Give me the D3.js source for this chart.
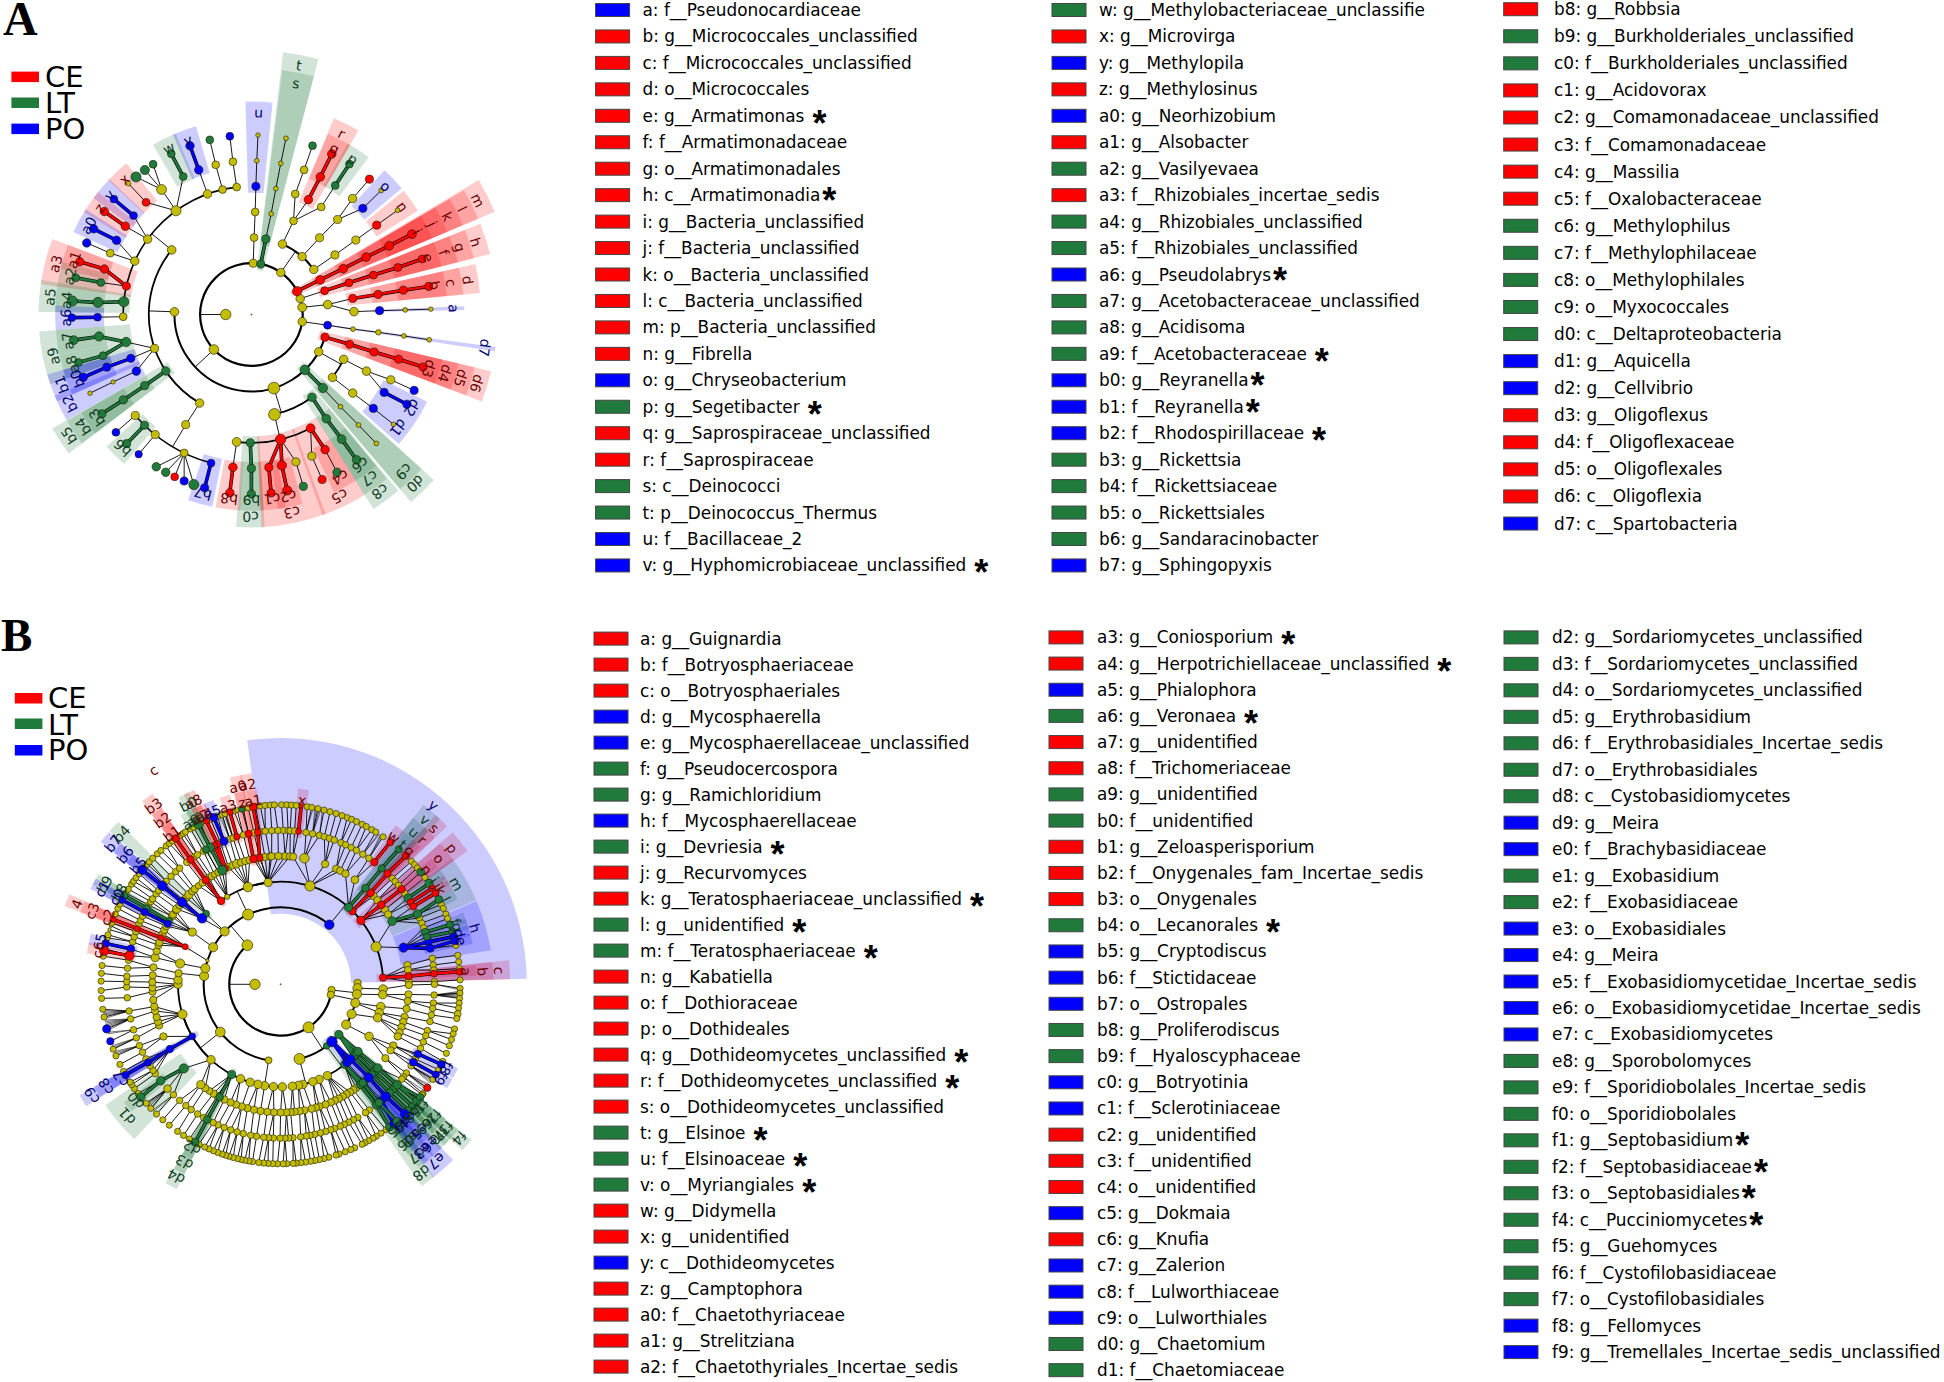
<!DOCTYPE html>
<html>
<head>
<meta charset="utf-8">
<script src="https://cdn.jsdelivr.net/npm/d3@7"></script>
<style>
  body { margin: 0; background: #fff; }
  svg { display: block; }
</style>
</head>
<body>
<svg id="chart" width="1944" height="1382"></svg>
<script>
// legend entries, taken from the figure. a trailing * is the significance star
var legendA1 = ["a: f__Pseudonocardiaceae","b: g__Micrococcales_unclassified","c: f__Micrococcales_unclassified","d: o__Micrococcales","e: g__Armatimonas *","f: f__Armatimonadaceae","g: o__Armatimonadales","h: c__Armatimonadia*","i: g__Bacteria_unclassified","j: f__Bacteria_unclassified","k: o__Bacteria_unclassified","l: c__Bacteria_unclassified","m: p__Bacteria_unclassified","n: g__Fibrella","o: g__Chryseobacterium","p: g__Segetibacter *","q: g__Saprospiraceae_unclassified","r: f__Saprospiraceae","s: c__Deinococci","t: p__Deinococcus_Thermus","u: f__Bacillaceae_2","v: g__Hyphomicrobiaceae_unclassified *"];
var groupsA1 = "BRRRRRRRRRRRRRBGRRGGBB";
var legendA2 = ["w: g__Methylobacteriaceae_unclassifie","x: g__Microvirga","y: g__Methylopila","z: g__Methylosinus","a0: g__Neorhizobium","a1: g__Alsobacter","a2: g__Vasilyevaea","a3: f__Rhizobiales_incertae_sedis","a4: g__Rhizobiales_unclassified","a5: f__Rhizobiales_unclassified","a6: g__Pseudolabrys*","a7: g__Acetobacteraceae_unclassified","a8: g__Acidisoma","a9: f__Acetobacteraceae *","b0: g__Reyranella*","b1: f__Reyranella*","b2: f__Rhodospirillaceae *","b3: g__Rickettsia","b4: f__Rickettsiaceae","b5: o__Rickettsiales","b6: g__Sandaracinobacter","b7: g__Sphingopyxis"];
var groupsA2 = "GRBRBRGRGGBGGGBBBGGGGB";
var legendA3 = ["b8: g__Robbsia","b9: g__Burkholderiales_unclassified","c0: f__Burkholderiales_unclassified","c1: g__Acidovorax","c2: g__Comamonadaceae_unclassified","c3: f__Comamonadaceae","c4: g__Massilia","c5: f__Oxalobacteraceae","c6: g__Methylophilus","c7: f__Methylophilaceae","c8: o__Methylophilales","c9: o__Myxococcales","d0: c__Deltaproteobacteria","d1: g__Aquicella","d2: g__Cellvibrio","d3: g__Oligoflexus","d4: f__Oligoflexaceae","d5: o__Oligoflexales","d6: c__Oligoflexia","d7: c__Spartobacteria"];
var groupsA3 = "RGGRRRRRGGGGGBBRRRRB";

var legendB1 = ["a: g__Guignardia","b: f__Botryosphaeriaceae","c: o__Botryosphaeriales","d: g__Mycosphaerella","e: g__Mycosphaerellaceae_unclassified","f: g__Pseudocercospora","g: g__Ramichloridium","h: f__Mycosphaerellaceae","i: g__Devriesia *","j: g__Recurvomyces","k: g__Teratosphaeriaceae_unclassified *","l: g__unidentified *","m: f__Teratosphaeriaceae *","n: g__Kabatiella","o: f__Dothioraceae","p: o__Dothideales","q: g__Dothideomycetes_unclassified *","r: f__Dothideomycetes_unclassified *","s: o__Dothideomycetes_unclassified","t: g__Elsinoe *","u: f__Elsinoaceae *","v: o__Myriangiales *","w: g__Didymella","x: g__unidentified","y: c__Dothideomycetes","z: g__Camptophora","a0: f__Chaetothyriaceae","a1: g__Strelitziana","a2: f__Chaetothyriales_Incertae_sedis"];
var groupsB1 = "RRRBBGGBGRRGGRRRRRRGGGRRBRRRR";
var legendB2 = ["a3: g__Coniosporium *","a4: g__Herpotrichiellaceae_unclassified *","a5: g__Phialophora","a6: g__Veronaea *","a7: g__unidentified","a8: f__Trichomeriaceae","a9: g__unidentified","b0: f__unidentified","b1: g__Zeloasperisporium","b2: f__Onygenales_fam_Incertae_sedis","b3: o__Onygenales","b4: o__Lecanorales *","b5: g__Cryptodiscus","b6: f__Stictidaceae","b7: o__Ostropales","b8: g__Proliferodiscus","b9: f__Hyaloscyphaceae","c0: g__Botryotinia","c1: f__Sclerotiniaceae","c2: g__unidentified","c3: f__unidentified","c4: o__unidentified","c5: g__Dokmaia","c6: g__Knufia","c7: g__Zalerion","c8: f__Lulworthiaceae","c9: o__Lulworthiales","d0: g__Chaetomium","d1: f__Chaetomiaceae"];
var groupsB2 = "RRBGRRGGRRRGBBBGGBBRRRBRBBBGG";
var legendB3 = ["d2: g__Sordariomycetes_unclassified","d3: f__Sordariomycetes_unclassified","d4: o__Sordariomycetes_unclassified","d5: g__Erythrobasidium","d6: f__Erythrobasidiales_Incertae_sedis","d7: o__Erythrobasidiales","d8: c__Cystobasidiomycetes","d9: g__Meira","e0: f__Brachybasidiaceae","e1: g__Exobasidium","e2: f__Exobasidiaceae","e3: o__Exobasidiales","e4: g__Meira","e5: f__Exobasidiomycetidae_Incertae_sedis","e6: o__Exobasidiomycetidae_Incertae_sedis","e7: c__Exobasidiomycetes","e8: g__Sporobolomyces","e9: f__Sporidiobolales_Incertae_sedis","f0: o__Sporidiobolales","f1: g__Septobasidium*","f2: f__Septobasidiaceae*","f3: o__Septobasidiales*","f4: c__Pucciniomycetes*","f5: g__Guehomyces","f6: f__Cystofilobasidiaceae","f7: o__Cystofilobasidiales","f8: g__Fellomyces","f9: g__Tremellales_Incertae_sedis_unclassified"];
var groupsB3 = "GGGGGGGBBGGBBBBBGGGGGGGGGGBB";

// panel A tree: id, parent, level, angle read clockwise from north, group, abundance
var treeA = [
  ["root",null,0,0,"Y",1],["k0",null,1,270,"Y",90],
  ["p1","k0",2,227,"Y",76],["p2","k0",2,2,"Y",55],["t","k0",2,10.5,"G",55],["p3","k0",2,35,"Y",60],["m","k0",2,63,"R",72],["p4","k0",2,72,"Y",60],["p5","k0",2,82,"Y",65],["p6","k0",2,98,"Y",60],
  ["n1","p2",3,2,"Y",50],["n2","n1",4,2.1,"Y",50],["u","n2",5,2,"B",55],["n3","u",6,2,"Y",19],["n4","n3",7,2.1,"Y",17],
  ["s","t",3,10.8,"G",55],["n5","s",4,11.1,"Y",19],["n6","n5",5,11,"Y",19],["n7","n6",6,11,"Y",19],["n8","n7",7,11.1,"Y",19],
  ["c1x","p3",3,23.8,"Y",60],["c2x","p3",3,41.2,"Y",60],["c3x","p3",3,54.2,"Y",60],
  ["n9","c1x",4,24.2,"Y",50],["n10","n9",5,20,"Y",50],["n11","n10",6,20,"Y",50],["n12","n11",7,19.9,"G",50],
  ["r","n9",5,26.4,"R",60],["q","r",6,26.6,"R",62],["n13","q",7,26.6,"R",62],
  ["n14","n9",5,33,"Y",50],["p","n14",6,33,"G",50],["n15","p",7,33.1,"G",50],
  ["n16","c2x",4,41.6,"Y",55],["n17","n16",5,42.2,"Y",55],["n18","n17",6,41.1,"Y",60],["n19","n18",7,41.1,"R",55],["o","n17",6,46.4,"B",55],["n20","o",7,46.3,"Y",19],
  ["n21","c3x",4,54.5,"Y",55],["n22","n21",5,54.5,"Y",55],["n","n22",6,54.5,"R",55],["n23","n",7,54.5,"Y",19],
  ["l","m",3,63.3,"R",65],["k","l",4,63.5,"R",65],["j","k",5,63.4,"R",65],["i","j",6,63.5,"R",65],["n24","i",7,63.4,"R",65],
  ["h","p4",3,72,"R",52],["g","h",4,72,"R",52],["f","g",5,72.1,"R",52],["e","f",6,72.2,"R",52],["n25","e",7,72,"R",52],
  ["n26","p5",3,82.6,"Y",62],["d","n26",4,81,"R",55],["c","d",5,81,"R",55],["b","c",6,80.9,"R",55],["n27","b",7,81,"R",55],
  ["n28","n26",4,88.4,"Y",62],["a","n28",5,88.3,"B",55],["n29","a",6,88.3,"Y",19],["n30","n29",7,88.3,"Y",17],
  ["d7","p6",3,98,"B",52],["n31","d7",4,98.2,"Y",19],["n32","n31",5,98,"Y",25],["n33","n32",6,98,"Y",19],["n34","n33",7,98.1,"Y",19],
  ["d6","p1",3,107.1,"R",55],["d5","d6",4,106.9,"R",55],["d4","d5",5,107,"R",55],["d3","d4",6,106.9,"R",55],["n35","d3",7,107,"R",55],
  ["n36","p1",3,119,"Y",60],["n37","n36",4,115.9,"Y",60],["n38","n37",5,116.2,"Y",60],["n39","n38",6,115.1,"Y",55],["n40","n39",7,115,"B",55],["d2","n38",6,120.4,"B",55],["n41","d2",7,120,"B",55],
  ["n42","n36",4,127.8,"Y",60],["n43","n42",5,127.8,"Y",60],["d1","n43",6,127.6,"B",55],["n44","d1",7,127.7,"Y",17],
  ["d0","p1",3,136,"G",76],["c9","d0",4,135.8,"G",70],["n45","c9",5,136,"Y",19],["n46","n45",6,135.9,"Y",19],["n47","n46",7,135.9,"Y",19],
  ["n48","p1",3,163,"Y",115],["n49","n48",4,167,"Y",115],["c8","n48",4,143.8,"G",62],["c7","c8",5,144.3,"G",62],["c6","c7",6,144.1,"G",62],["n50","c6",7,144.1,"G",62],
  ["n51","n49",5,186.6,"Y",65],["b8","n51",6,186.9,"R",62],["n52","b8",7,186.9,"R",62],
  ["c0","n49",5,180.5,"G",55],["b9","c0",6,180,"G",55],["n53","b9",7,180,"G",55],
  ["c3","n49",5,166.8,"R",90],["c1","c3",6,173.5,"R",55],["n54","c1",7,173.7,"R",55],["c2","c3",6,168.6,"R",72],["n55","c2",7,168.5,"R",72],["n56","c3",6,163.2,"Y",55],["n57","n56",7,163.2,"G",55],
  ["c5","n49",5,152.5,"R",65],["n58","c5",6,156.9,"Y",55],["n59","n58",7,156.8,"R",55],["c4","c5",6,151.4,"R",60],["n60","c4",7,151.5,"G",60],
  ["n61","p1",3,272,"Y",62],
  ["n62","n61",4,309,"Y",62],["b5","n61",4,236.6,"G",60],["n63","n61",4,250.7,"Y",55],["n64","n61",4,210.3,"Y",60],
  ["a3","n62",5,282.8,"R",55],["a5","n62",5,275.7,"G",85],["n65","n62",5,269,"Y",50],["n66","n62",5,294.6,"Y",60],["n67","n62",5,306,"Y",60],["n68","n62",5,324,"Y",85],["n69","n62",5,340,"Y",60],["n70","n62",5,347,"Y",50],["n71","n62",5,353.4,"Y",50],
  ["a1","a3",6,287.2,"R",60],["n72","a1",7,287.1,"R",60],["a2","a3",6,282,"G",50],["n73","a2",7,281.8,"G",52],
  ["a4","a5",6,274.5,"G",85],["n74","a4",7,274.3,"G",85],["a6","n65",6,269,"B",50],["n75","a6",7,269,"B",50],
  ["n76","n66",6,293.5,"Y",50],["n77","n76",7,293.5,"B",60],["a0","n66",6,298.8,"B",60],["n78","a0",7,298.5,"B",60],
  ["z","n67",6,305,"R",60],["n79","z",7,305,"R",60],["v","n67",6,310,"B",50],["n80","v",7,310,"B",50],
  ["n81","n68",6,324.3,"Y",80],["n82","n81",7,320,"G",85],["n83","n81",7,323.6,"G",70],["n84","n81",7,326.8,"G",50],
  ["x","n68",6,316.8,"R",50],["n85","x",7,316.8,"Y",19],["w","n68",6,333.7,"G",50],["n86","w",7,333.5,"G",50],
  ["y","n69",6,340,"B",60],["n87","y",7,340,"B",60],["n88","n70",6,346.6,"Y",50],["n89","n88",7,346.6,"G",50],["n90","n71",6,353.1,"Y",50],["n91","n90",7,353.1,"B",50],
  ["a9","n63",5,257.6,"G",72],["a7","a9",6,261.8,"G",70],["n92","a7",7,261.8,"G",65],["a8","a9",6,254.5,"G",50],["n93","a8",7,254.5,"G",50],
  ["b1","n63",5,250,"B",55],["b0","b1",6,250,"B",55],["n94","b0",7,249.5,"B",60],["b2","n63",5,243.8,"B",60],["n95","b2",6,244,"Y",15],["n96","n95",7,244,"Y",17],
  ["b4","b5",5,236.3,"G",55],["b3","b4",6,236.3,"G",55],["n97","b3",7,236.4,"G",55],
  ["n98","n64",5,210.8,"Y",55],["n99","n98",6,229,"Y",55],["n100","n99",7,229,"B",50],["b6","n98",6,224,"G",55],["n101","b6",7,224,"G",55],["n102","n98",6,218.7,"Y",55],["n103","n102",7,218.9,"B",45],
  ["n104","n98",6,205.9,"Y",50],["n105","n104",7,212,"G",60],["n106","n104",7,208.5,"G",60],["n107","n104",7,205.3,"R",50],["n108","n104",7,202,"B",55],["n109","n104",7,198.7,"G",85],["b7","n98",6,195.2,"B",50],["n110","b7",7,195.1,"B",55]
];

// panel B rings: angles of the yellow nodes per level, [angle, abundance] where a node stands out
var ringB2 = [[319.6,95],[96.4,45],[101.8,45],[147,100]];
var ringB3 = [[189,40],[231.6,80],276.2,282,[288,10],298.8,313.4,[335,100],[89,45],92.9,97.4,104,112.7,121.6,[165.8,100]];
var ringB4 = [[16.6,85],[68.6,85],[222.7,60],[253,70],270,272.5,[276.2,45],[281.7,70],[300.6,55],[328.6,25],[341.4,75],[353,55],92.6,95.8,102.5,106,109,[120.5,60],152.9,158,161.7,167.4,170,173.4,179,184,189,192.8,197.3,203];
var ringB5 = [2,4.2,5.6,[10.7,75],[20.3,45],25.7,27.7,30.4,[35.4,50],46.5,49,54.5,57,81.4,83.6,88.8,90.3,94.5,97.5,101,104.7,107,109.5,112,114,118.5,121,[125.2,45],143.9,145.5,147.2,149,151,153,155,156.9,159.5,162.4,164,166,169.3,171.5,173.7,175.5,177.4,180,183,186,189,192,195,197.6,200.3,203,206,209.5,211.5,[213.8,40],216,[218.5,55],246,251.3,253,255.2,258,260,263,266.7,268.5,271,274,277.6,[282,55],285,287.8,289,293,295,297,302,303,[305,30],[306,60],308,311,312.5,[314.4,60],316.5,318,[320.2,35],322.5,326,327.5,[329,35],331,336,338,[340,60],342,344,346,349,351,353,355.3,356,359];
var ringB6 = [1,2.8,3.6,5.2,9.5,12,14.6,16.5,18.5,20.4,23.1,25,27.3,29.5,32.3,35,46.5,48.1,50,53.8,64.5,66.6,68.5,80.3,82.8,84.7,89,90,94,97,99,101.5,104,107.5,109.5,112,114.6,117.5,119,122,125.2,127,128,144.8,146.5,149.9,151.8,153.7,155.5,157.2,159.5,161,163,165,167.2,169,170.4,172.5,175.4,177,178.4,180.2,182.7,184.5,186.3,189,191.2,194,196.4,198.9,201.5,204,206,210,212.6,215.5,218,221,224.1,[227.3,50],234.5,236,238,241,243.8,246.5,249.6,252.8,257,260,265,269,271,273,276,279,286,288,290,293,294.5,296.3,301,302.5,303.7,306,307.5,310.5,312,314.6,317,319,322.4,326,327.3,329.9,331,337,340.7,342,346,350,352.4,354.3,356.7,359];
var ringB7 = [0.3,2,3.5,5,8.5,10,12,14,16,18,20,21.8,23.3,25,27,28.5,30.5,32,34.8,46.8,48.2,49.6,53.5,63.6,65,67,68.5,77.5,80.7,82.8,85,88.6,91.3,92.8,94.5,96,97.6,[99.5,40],101,104.4,106,107.9,110,112.6,115.4,118.4,122,127.5,128,144,146,147.8,149,150.6,152,153,155.6,157,158.9,161,162,164.4,166,167.5,169,170.4,172,173.5,175,176,178,179.2,181,182.5,184,185.4,187,189,190.2,191.5,192.7,193.9,195.3,196.7,197.8,199,200.5,202,203.5,205,207,210.5,212.7,215,218.3,221,223.7,226.3,228.5,232.5,234.5,236,237,241,243.5,246.5,248.8,259.5,262,265.5,268,271,273.5,276,279,281.5,285,286,[287.7,10],[289,10],290,293,295,296.5,300.5,302,303.9,305,306.4,308,311,312,313,314.6,316.6,318.2,320.4,321.7,323,326,327,328,329.9,331,333.5,336,337,339.5,341,342,345,[346,20],348,349.6,352,353.5,355,356.7,358];
// hair-thin children that make the black fans
var fansB7 = [91.8,92.2,92.6,93,93.4,93.8,94.2,121.5,122,122.5,123,123.5,124,124.5,125.5,126,126.5,10.5,11,11.5,12.5,13,13.5,33,33.4,33.8,34.2,225,225.5,226,227,227.5,228,228.5,254,254.5,255,256,256.5,257,257.5,258,258.5,259,260,260.5,261,261.5,247,247.5,248,249,249.5,250,340,340.5,341,341.5,342,342.5];
// panel B coloured nodes: id, level, angle, group, abundance
var markedB = [
  ["c",4,86.3,"R",45],["b",5,86.4,"R",45],["a",6,86,"R",40],["",7,86,"R",40],
  ["h",5,73.4,"B",70],["d",6,74,"B",50],["e",6,76.5,"B",50],["f",6,70.2,"G",50],["g",6,72,"G",40],["",7,70.6,"G",45],["",7,73,"G",45],["",7,74.6,"B",50],["",7,76,"B",50],
  ["m",5,60.5,"G",65],["i",6,55.9,"G",55],["j",6,57.8,"R",40],["k",6,59.6,"R",40],["l",6,62.8,"G",55],["",7,55.8,"G",55],["",7,57.7,"R",35],["",7,59.5,"R",40],["",7,61.8,"G",50],
  ["p",4,51.5,"R",55],["o",5,51.7,"R",50],["n",6,51.8,"R",45],["",7,51.3,"G",50],
  ["s",4,44.4,"R",50],["r",5,44.5,"R",50],["q",6,44,"R",45],["",7,44.3,"R",45],
  ["v",4,41.5,"G",55],["u",5,41.4,"G",50],["t",6,41.1,"G",45],["",7,41.2,"G",40],
  ["w",6,37.5,"R",45],["",7,37.7,"R",40],["x",6,6.7,"R",30],["",7,6.6,"R",15],["y",3,39.3,"B",75],
  ["a2",5,350.6,"R",40],["a0",5,347.8,"R",50],["z",6,348,"R",45],["a1",6,351.5,"R",40],["",7,351.2,"R",50],["",7,347.5,"G",35],
  ["a3",6,343.5,"R",35],["",7,343.6,"R",35],["a5",6,338.4,"B",55],["",7,338.2,"B",55],["a4",6,335.8,"R",35],["",7,335.6,"R",35],
  ["a8",5,334.5,"R",35],["a7",6,334.5,"R",35],["b0",5,332.9,"G",75],["a9",6,332.8,"G",60],["",7,332.7,"G",60],["a6",6,331,"G",40],
  ["b3",4,324.5,"R",50],["b2",5,324.3,"R",45],["b1",6,324.2,"R",45],["",7,324.3,"R",45],["b4",4,313.4,"G",40],
  ["b7",4,310,"B",75],["b6",5,309.8,"B",75],["b5",6,309.8,"B",75],["",7,309.6,"B",70],
  ["b9",5,299.6,"G",40],["b8",6,299.7,"G",40],["",7,299.6,"G",40],["c1",5,298.2,"B",45],["c0",6,298,"B",45],["",7,298,"B",40],
  ["c4",4,291.5,"R",30],["c3",5,291.3,"R",30],["c2",6,291.2,"R",30],["",7,291.2,"R",30],
  ["c5",6,283.3,"B",50],["",7,283.1,"B",50],["c6",6,280.7,"R",75],["",7,280.7,"R",70],
  ["",7,255.6,"B",55],["",7,251.5,"B",45],
  ["c9",4,239.5,"B",40],["c8",5,239.7,"B",45],["c7",6,239.5,"B",45],["",7,239.7,"B",45],
  ["d1",5,229,"G",70],["d0",6,231.2,"G",60],["",7,231.1,"G",60],
  ["d4",4,208.5,"G",55],["d3",5,208.4,"G",50],["d2",6,208.5,"G",50],["",7,208.4,"G",50],
  ["d8",3,143.3,"G",35],["d7",4,141.5,"G",50],["d6",5,141.6,"G",50],["d5",6,141.6,"G",50],["",7,142.7,"G",50],
  ["e3",4,139.7,"B",60],["e0",5,139.2,"G",50],["d9",6,139,"B",50],["",7,141,"B",50],["e2",5,140.2,"G",50],["e1",6,140.3,"G",50],["",7,139.7,"G",50],
  ["f7",4,133,"G",50],["f6",5,132.9,"G",50],["f5",6,132.8,"G",50],["",7,132.8,"G",50],
  ["f0",4,134.5,"G",50],["e9",5,134.7,"G",50],["e8",6,134.8,"G",50],["",7,134.7,"G",50],
  ["f4",3,130.8,"G",60],["f3",4,131,"G",60],["f2",5,130.7,"G",60],["f1",6,130.8,"G",60],["",7,130.7,"G",60],["",7,129,"G",50],
  ["e7",3,138.1,"B",90],["e6",4,137,"B",70],["e5",5,136.6,"B",70],["e4",6,136.8,"B",70],["",7,136.2,"B",70],
  ["f8",6,116.9,"B",45],["",7,116.5,"B",50],["f9",6,120.4,"B",50],["",7,120.2,"B",45],["",7,125.2,"R",45]
];
// wedge spans in panel B that are wider than their own node
var spansB = {y:[352.2,88.7],m:[53.8,66.7],h:[67,80.8],d1:[223.4,235.4],e7:[135.5,141.7],d8:[141.5,145],p:[48.5,54.5],o:[48.5,54.5],s:[42.5,46.5],r:[42.5,46.5],v:[38.5,44],u:[38.5,44],c:[84,88.8],b:[84,88.8],a:[84.5,87.5],d0:[229.5,233]};
var spansA = {a:[87.8,88.8],d7:[97.6,98.6]};

var colors = {Y:"#c4bc00", R:"#ff0000", G:"#1f7a3c", B:"#0000ff"};
var labelColors = {R:"#6b0000", G:"#0f3d1e", B:"#00006e"};
var taxonRing = {g:7.65, f:8.3, o:8.95, c:9.6, p:10.3};
var defaultAbund = {3:70, 4:60, 5:45, 6:36, 7:32};

var svg = d3.select("#chart");
var toRad = Math.PI / 180;
var sizeScale = d3.scaleSqrt().domain([0,100]).range([0,5.5]);
var angDiff = function(a,b){ return Math.abs(((a-b+540)%360)-180); };

// smallest arc that holds all the angles: everything but the largest gap
function arcSpan(angles){
  var s = angles.map(function(a){ return (a+360)%360; }).sort(d3.ascending);
  var best = 0, start = s[0], end = s[s.length-1];
  s.forEach(function(a,i){
    var next = i < s.length-1 ? s[i+1] : s[0]+360;
    if (next-a > best){ best = next-a; end = a; start = next%360; }
  });
  if (end < start) end += 360;
  return [start,end];
}

function drawCladogram(opts){
  var g = svg.append("g").attr("transform","translate("+opts.cx+","+opts.cy+")");
  var nodes = opts.nodes;
  var byId = new Map(nodes.map(function(n){ return [n.id,n]; }));
  var rScale = d3.scaleLinear().domain([0,7]).range([0,7*25.65]);
  var pos = function(angle,level){ return d3.pointRadial(angle*toRad,rScale(level)); };
  var kids = d3.group(nodes.filter(function(n){ return n.parent; }),function(n){ return n.parent; });

  // wedges and labels, one per legend entry
  var marks = [];
  opts.legend.forEach(function(entry){
    var id = entry.slice(0,entry.indexOf(":"));
    var n = byId.get(id);
    if (!n) return;
    var taxon = entry.charAt(id.length+2);
    var span;
    if (opts.spans[id]) span = opts.spans[id].slice();
    else {
      var angles = [n.angle];
      if (opts.useClade) (function walk(p){ (kids.get(p.id)||[]).forEach(function(c){ angles.push(c.angle); walk(c); }); })(n);
      span = arcSpan(angles);
      span = [span[0]-opts.pad, span[1]+opts.pad];
    }
    if (span[1] < span[0]) span[0] -= 360;
    marks.push({id:id, node:n, ring:taxonRing[taxon], a0:span[0], a1:span[1]});
  });
  var arcGen = d3.arc();
  g.selectAll("path.wedge").data(marks).enter().append("path")
    .attr("class","wedge")
    .attr("d",function(d){ return arcGen({innerRadius:rScale(d.node.level-0.25),outerRadius:rScale(d.ring),startAngle:d.a0*toRad,endAngle:d.a1*toRad}); })
    .attr("fill",function(d){ return colors[d.node.group]; })
    .attr("fill-opacity",0.2);

  // branches
  var edges = g.append("g").attr("fill","none");
  var arcWidth = {2:2.2,3:2,4:1.8,5:1.6,6:1.4,7:1.2};
  function ringArc(level,a0,a1){
    edges.append("path")
      .attr("d",arcGen({innerRadius:rScale(level),outerRadius:rScale(level),startAngle:a0*toRad,endAngle:a1*toRad}))
      .attr("stroke","#000").attr("stroke-width",arcWidth[level]);
  }
  var thick = [];
  kids.forEach(function(children,pid){
    var parent = byId.get(pid);
    var level = children[0].level;
    var limit = level <= 4 ? 6 : opts.deepLimit;
    var bracket = d3.max(children,function(c){ return angDiff(c.angle,parent.angle); }) > limit;
    if (bracket){
      var span = arcSpan(children.map(function(c){ return c.angle; }).concat([parent.angle]));
      ringArc(level,span[0],span[1]);
      var a = pos(parent.angle,parent.level), b = pos(parent.angle,level);
      edges.append("line").attr("x1",a[0]).attr("y1",a[1]).attr("x2",b[0]).attr("y2",b[1])
        .attr("stroke","#000").attr("stroke-width",0.9);
    } else {
      children.forEach(function(c){
        var a = pos(parent.angle,parent.level), b = pos(c.angle,c.level);
        var line = {x1:a[0],y1:a[1],x2:b[0],y2:b[1],group:c.group};
        if (c.group != "Y" && c.group == parent.group) thick.push(line);
        else edges.append("line").attr("x1",a[0]).attr("y1",a[1]).attr("x2",b[0]).attr("y2",b[1])
          .attr("stroke","#000").attr("stroke-width",c.abund < 5 ? 0.55 : 0.9);
      });
    }
  });
  opts.extraArcs.forEach(function(e){ ringArc(e[0],e[1],e[2]); });
  thick.forEach(function(t){
    edges.append("line").attr("x1",t.x1).attr("y1",t.y1).attr("x2",t.x2).attr("y2",t.y2)
      .attr("stroke","#000").attr("stroke-width",3.6);
  });
  thick.forEach(function(t){
    edges.append("line").attr("x1",t.x1).attr("y1",t.y1).attr("x2",t.x2).attr("y2",t.y2)
      .attr("stroke",colors[t.group]).attr("stroke-width",2.4);
  });

  // nodes, yellow first so the coloured ones stay on top
  var ordered = nodes.filter(function(n){ return n.abund >= 5 || n.level == 0; });
  ordered.sort(function(a,b){ return (a.group!="Y") - (b.group!="Y"); });
  g.selectAll("circle").data(ordered).enter().append("circle")
    .attr("cx",function(d){ return pos(d.angle,d.level)[0]; })
    .attr("cy",function(d){ return pos(d.angle,d.level)[1]; })
    .attr("r",function(d){ return sizeScale(d.abund); })
    .attr("fill",function(d){ return colors[d.group]; })
    .attr("stroke","#1a1a00").attr("stroke-width",0.6);

  g.selectAll("text.lab").data(marks).enter().append("text")
    .attr("class","lab")
    .attr("transform",function(d){
      var mid = (d.a0+d.a1)/2, p = pos(mid,d.ring-0.42);
      return "translate("+p[0]+","+p[1]+") rotate("+mid+")";
    })
    .attr("text-anchor","middle").attr("dy","0.35em")
    .style("font-family","'DejaVu Sans'").style("font-size","14px")
    .attr("fill",function(d){ return labelColors[d.node.group]; })
    .text(function(d){ return opts.labelText[d.id] || d.id; });
  opts.strays.forEach(function(s){
    var p = pos(s[1],s[2]);
    g.append("text").attr("transform","translate("+p[0]+","+p[1]+") rotate("+s[1]+")")
      .attr("text-anchor","middle").attr("dy","0.35em")
      .style("font-family","'DejaVu Sans'").style("font-size","14px")
      .attr("fill",labelColors[s[3]]).text(s[0]);
  });
}

function legendColumn(entries,groups,sx,tx,y0,dy){
  var rowY = d3.scaleLinear().domain([0,1]).range([y0,y0+dy]);
  entries.forEach(function(entry,i){
    var y = rowY(i);
    var star = entry.charAt(entry.length-1) == "*";
    var spaced = star && entry.charAt(entry.length-2) == " ";
    var label = star ? entry.replace(/ ?\*$/,"") : entry;
    svg.append("rect").attr("x",sx).attr("y",y-6.5).attr("width",34).attr("height",13)
      .attr("fill",colors[groups.charAt(i)]).attr("stroke","#444").attr("stroke-width",1);
    var t = svg.append("text").attr("transform","translate("+tx+","+(y+6)+") scale(0.965,1)")
      .style("font-family","'DejaVu Sans'").style("font-size","17.5px").attr("fill","#000").text(label);
    if (star){
      var end = tx + t.node().getComputedTextLength()*0.965;
      svg.append("text").attr("x",end+(spaced?8:2)).attr("y",y+(spaced?20:18))
        .style("font-family","'Liberation Sans'").style("font-weight","bold").style("font-size","36px")
        .attr("fill","#000").text("*");
    }
  });
}

function keyBlock(rows){
  ["CE","LT","PO"].forEach(function(name,i){
    var r = rows[i];
    svg.append("rect").attr("x",r[0]).attr("y",r[1]).attr("width",r[2]).attr("height",10.5).attr("fill",colors["RGB".charAt(i)]);
    svg.append("text").attr("x",r[3]).attr("y",r[4])
      .style("font-family","'DejaVu Sans'").style("font-size","29px").attr("fill","#000").text(name);
  });
}

function toNodesA(rows){
  return rows.map(function(r){ return {id:r[0],parent:r[1],level:r[2],angle:r[3],group:r[4],abund:r[5]}; });
}

// panel B gets its parents from the nearest node one level in
function buildB(){
  var all = [{id:"root",parent:null,level:0,angle:0,group:"Y",abund:1},{id:"kB",parent:null,level:1,angle:270,group:"Y",abund:90}];
  var count = 0;
  function addRing(ring,level){
    ring.forEach(function(v){
      var isPair = Array.isArray(v);
      all.push({id:"n"+(count++),level:level,angle:isPair?v[0]:v,group:"Y",abund:isPair?v[1]:defaultAbund[level]});
    });
  }
  addRing(ringB2,2); addRing(ringB3,3); addRing(ringB4,4); addRing(ringB5,5); addRing(ringB6,6); addRing(ringB7,7);
  fansB7.forEach(function(a){ all.push({id:"n"+(count++),level:7,angle:a,group:"Y",abund:1}); });
  markedB.forEach(function(m){
    all.push({id:m[0]||"n"+(count++),level:m[1],angle:m[2],group:m[3],abund:m[4]});
  });
  var asco = all.find(function(n){ return n.level==2 && n.angle==319.6; });
  var yNode = all.find(function(n){ return n.id=="y"; });
  all.forEach(function(n){
    if (n.level < 2) return;
    if (n.level == 2){ n.parent = "kB"; return; }
    if (n.level == 3 && (n.angle >= 185 || n.angle <= 40)){ n.parent = asco.id; return; }
    if (n.level == 4 && n.angle >= 10 && n.angle <= 88){ n.parent = yNode.id; return; }
    var inner = all.filter(function(o){ return o.level == n.level-1; });
    // same colour wins a tie so the marked chains stay joined
    n.parent = d3.least(inner,function(o){
      return angDiff(o.angle,n.angle) - (o.group==n.group && n.group!="Y" ? 1.5 : 0);
    }).id;
  });
  return all;
}

drawCladogram({cx:251.4,cy:314.5,nodes:toNodesA(treeA),legend:legendA1.concat(legendA2,legendA3),spans:spansA,
  useClade:true,pad:3.6,deepLimit:12,extraArcs:[[2,98,227]],labelText:{},strays:[]});
drawCladogram({cx:280.6,cy:984.3,nodes:buildB(),legend:legendB1.concat(legendB2,legendB3),spans:spansB,
  useClade:false,pad:1.6,deepLimit:22,extraArcs:[[4,341.4,376.6],[4,208.5,272.5]],labelText:{c4:"4"},strays:[["c",329.3,9.7,"R"]]});

legendColumn(legendA1,groupsA1,595.6,642.5,10,26.45);
legendColumn(legendA2,groupsA2,1052,1099,10,26.45);
legendColumn(legendA3,groupsA3,1503.7,1554,9.2,27.07);
legendColumn(legendB1,groupsB1,594,640,638.6,26);
legendColumn(legendB2,groupsB2,1049,1097,637.4,26.17);
legendColumn(legendB3,groupsB3,1504,1552,637.4,26.47);

keyBlock([[11.4,71.6,27.6,45,86.5],[11.4,97.5,27.6,45,112.7],[11.4,123.6,27.6,45,139]]);
keyBlock([[14.8,693,27.6,48,707.6],[14.8,718.5,27.6,48,734.5],[14.8,745,27.6,48,760]]);

svg.append("text").attr("x",3).attr("y",35).style("font-family","'Liberation Serif'").style("font-weight","bold").style("font-size","48px").text("A");
svg.append("text").attr("x",1).attr("y",651).style("font-family","'Liberation Serif'").style("font-weight","bold").style("font-size","47px").text("B");
</script>
</body>
</html>
